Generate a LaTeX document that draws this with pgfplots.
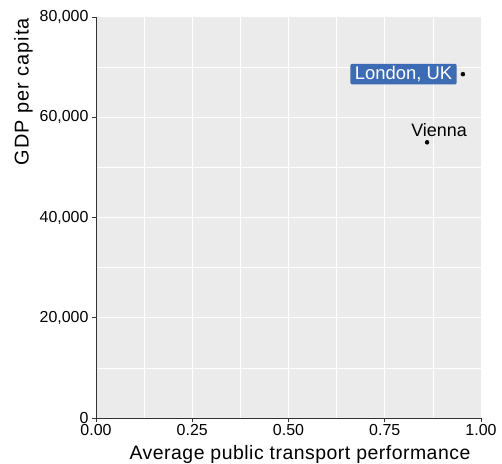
\documentclass[border=0pt]{standalone}
\usepackage{fontspec}
\setmainfont{Liberation Sans}
\usepackage{pgfplots}
\pgfplotsset{compat=1.18}
\definecolor{panel}{RGB}{235,235,235}
\definecolor{axgrey}{RGB}{51,51,51}
\definecolor{lblue}{RGB}{61,107,180}
\begin{document}
\begin{tikzpicture}
\useasboundingbox (-96bp,-46bp) rectangle (406bp,418bp);
\begin{axis}[
  at={(0,0)}, anchor=south west,
  scale only axis, width=385bp, height=401bp,
  xmin=0, xmax=1, ymin=0, ymax=80000,
  axis x line*=bottom, axis y line*=left,
  axis line style={axgrey, line width=0.9bp, -},
  axis background/.style={fill=panel},
  xtick={0,0.25,0.5,0.75,1},
  minor xtick={0.125,0.375,0.625,0.875},
  ytick={0,20000,40000,60000,80000},
  minor ytick={10000,30000,50000,70000},
  grid=both,
  major grid style={white, line width=1bp},
  minor grid style={white, line width=0.5bp},
  tick style={axgrey, line width=0.9bp},
  tick align=outside, major tick length=4bp, minor tick length=0pt,
  scaled y ticks=false,
  /pgf/number format/assume math mode=true,
  xticklabel={\pgfmathprintnumber[fixed,fixed zerofill,precision=2]{\tick}},
  yticklabel={\pgfmathprintnumber[fixed,1000 sep={,}]{\tick}},
  ticklabel style={font=\fontsize{16}{18}\selectfont, text=black},
  xticklabel style={yshift=1bp},
  clip=false,
]
\addplot[only marks, mark=*, mark size=2bp, black] coordinates {(0.953,68600) (0.860,55000)};
\node[anchor=east, fill=lblue, text=white, rounded corners=2bp, inner xsep=4.5bp, inner ysep=2.5bp, font=\fontsize{18.5}{20}\selectfont, xshift=-6bp] at (axis cs:0.953,68600) {London, UK};
\node[anchor=base, inner sep=0pt, font=\fontsize{18}{20}\selectfont, xshift=12bp, yshift=5.7bp] at (axis cs:0.860,55000) {Vienna};
\end{axis}
\node[rotate=90, anchor=base east, font=\fontsize{20}{22}\selectfont\addfontfeatures{LetterSpace=5}, inner sep=0pt] at ([xshift=-67.4bp,yshift=-1bp]current axis.north west) {GDP per capita};
\node[anchor=base, font=\fontsize{19.5}{22}\selectfont\addfontfeatures{LetterSpace=2.6}, inner sep=0pt] at ([xshift=204bp,yshift=-41bp]current axis.south west) {Average public transport performance};
\end{tikzpicture}
\end{document}
